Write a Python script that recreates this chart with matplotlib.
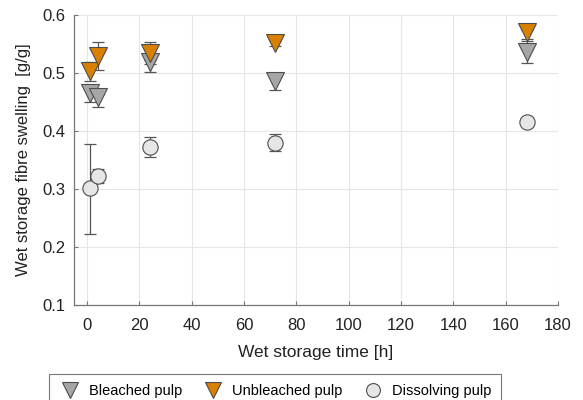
import matplotlib
matplotlib.use("Agg")
import matplotlib.pyplot as plt
from matplotlib.lines import Line2D

plt.rcParams['font.family'] = ['Liberation Sans', 'DejaVu Sans']

time_h = [1, 4, 24, 72, 168]

bleached = [0.466, 0.459, 0.519, 0.487, 0.536]
bleached_lo = [0.016, 0.018, 0.017, 0.016, 0.019]
bleached_hi = [0.013, 0.004, 0.004, 0.013, 0.020]

unbleached = [0.503, 0.529, 0.534, 0.552, 0.570]
unbleached_lo = [0.016, 0.024, 0.019, 0.006, 0.012]
unbleached_hi = [0.016, 0.024, 0.019, 0.004, 0.004]

dissolving = [0.301, 0.322, 0.373, 0.379, 0.416]
dissolving_lo = [0.079, 0.012, 0.017, 0.014, 0.006]
dissolving_hi = [0.077, 0.013, 0.017, 0.015, 0.006]

series_labels = ['Bleached pulp', 'Unbleached pulp', 'Dissolving pulp']

fig = plt.figure(figsize=(5.83, 4.0), dpi=100)
ax = fig.add_axes([0.127, 0.2375, 0.83, 0.725])

edge = '#4d4d4d'
ebc = '#555555'

def draw(y, lo, hi, marker, face, ms):
    ax.errorbar(time_h, y, yerr=[lo, hi], fmt='none', ecolor=ebc,
                elinewidth=0.9, capsize=4, capthick=0.9, zorder=3)
    ax.plot(time_h, y, linestyle='none', marker=marker, ms=ms,
            markerfacecolor=face, markeredgecolor=edge, markeredgewidth=0.8, zorder=4)

draw(bleached, bleached_lo, bleached_hi, 'v', '#a6a6a6', 13)
draw(unbleached, unbleached_lo, unbleached_hi, 'v', '#d98000', 13)
draw(dissolving, dissolving_lo, dissolving_hi, 'o', '#e6e6e6', 11)

ax.set_xlim(-5, 180)
ax.set_ylim(0.1, 0.6)
ax.set_xticks(range(0, 181, 20))
ax.set_yticks([0.1, 0.2, 0.3, 0.4, 0.5, 0.6])
ax.set_yticklabels(['0.1', '0.2', '0.3', '0.4', '0.5', '0.6'])
ax.grid(True, color='#e6e6e6', linewidth=0.8)
ax.set_axisbelow(True)
for s in ['top', 'right']:
    ax.spines[s].set_visible(False)
for s in ['left', 'bottom']:
    ax.spines[s].set_color('#777777')
    ax.spines[s].set_linewidth(0.9)
ax.tick_params(direction='in', length=3, color='#777777', labelsize=12,
               labelcolor='#222222')
ax.tick_params(axis='x', pad=9)
ax.tick_params(axis='y', pad=6)
ax.set_xlabel('Wet storage time [h]', fontsize=12.5, color='#222222', labelpad=9)
ax.set_ylabel('Wet storage fibre swelling  [g/g]', fontsize=12, color='#222222', labelpad=8)

handles = [
    Line2D([], [], linestyle='none', marker='v', ms=12, markerfacecolor='#a6a6a6',
           markeredgecolor=edge, markeredgewidth=0.8),
    Line2D([], [], linestyle='none', marker='v', ms=12, markerfacecolor='#d98000',
           markeredgecolor=edge, markeredgewidth=0.8),
    Line2D([], [], linestyle='none', marker='o', ms=10, markerfacecolor='#e6e6e6',
           markeredgecolor=edge, markeredgewidth=0.8),
]
leg = fig.legend(handles, series_labels, loc='upper center', bbox_to_anchor=(0.472, 0.0825),
                 ncol=3, frameon=True, fancybox=False, fontsize=10.5,
                 handletextpad=0.6, columnspacing=1.3, borderpad=0.65, handlelength=1.5)
leg.get_frame().set_edgecolor('#555555')
leg.get_frame().set_linewidth(0.8)

fig.savefig('out.png', dpi=100)
